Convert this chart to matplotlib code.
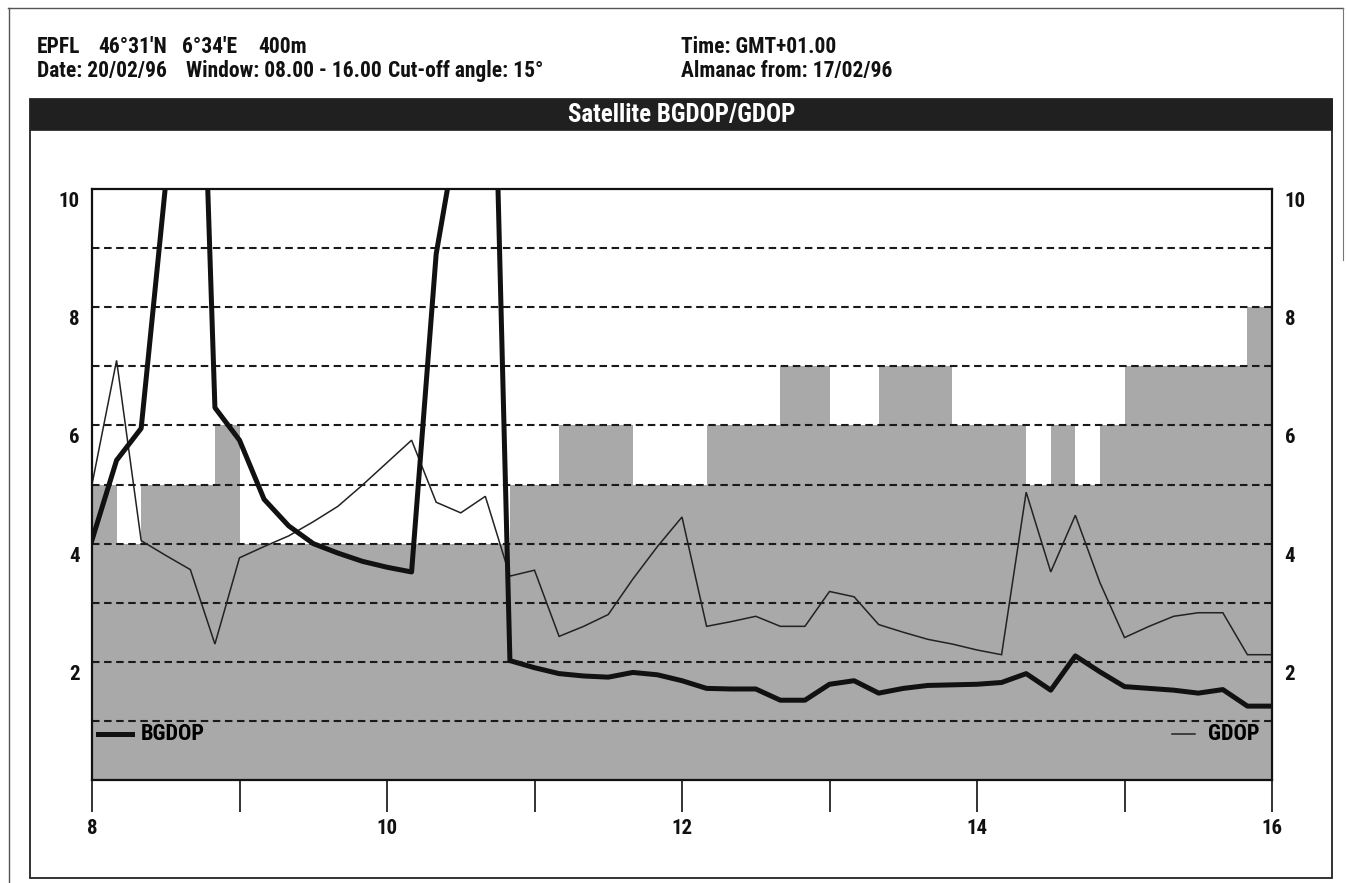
import matplotlib
matplotlib.use("Agg")
import matplotlib.pyplot as plt
from matplotlib import font_manager as fm
from matplotlib.transforms import ScaledTranslation
from matplotlib.lines import Line2D
from matplotlib.patches import Rectangle

# ---------------- data ----------------
minutes = [0, 10, 20, 30, 40, 50, 60, 70, 80, 90, 100, 110, 120, 130, 140, 150,
           160, 170, 180, 190, 200, 210, 220, 230, 240, 250, 260, 270, 280, 290,
           300, 310, 320, 330, 340, 350, 360, 370, 380, 390, 400, 410, 420, 430,
           440, 450, 460, 470, 480]  # minutes after 08:00

gdop = [5.0, 7.1, 4.05, 3.8, 3.56, 2.3, 3.76, 3.95, 4.13, 4.37, 4.63, 4.99,
        5.37, 5.75, 4.7, 4.52, 4.8, 3.45, 3.55, 2.43, 2.6, 2.8, 3.4, 3.95,
        4.45, 2.6, 2.68, 2.77, 2.6, 2.6, 3.19, 3.1, 2.63, 2.5, 2.38, 2.3,
        2.2, 2.12, 4.87, 3.52, 4.48, 3.34, 2.41, 2.6, 2.77, 2.83, 2.83, 2.12, 2.12]

bgdop = [4.06, 5.41, 5.95, 10.1, 19.0, 6.3, 5.75, 4.75, 4.3, 4.0, 3.84, 3.7,
         3.6, 3.52, 8.9, 11.3, 18.5, 2.02, 1.9, 1.8, 1.76, 1.74, 1.82, 1.78,
         1.68, 1.55, 1.54, 1.54, 1.35, 1.35, 1.62, 1.68, 1.47, 1.55, 1.6, 1.61,
         1.62, 1.65, 1.8, 1.52, 2.1, 1.83, 1.58, 1.55, 1.52, 1.47, 1.53, 1.25, 1.25]

satellites = [5, 4, 5, 5, 5, 6, 4, 4, 4, 4, 4, 4, 4, 4, 4, 4, 4, 5, 5, 6, 6, 6,
              5, 5, 5, 6, 6, 6, 7, 7, 6, 6, 7, 7, 7, 6, 6, 6, 5, 6, 5, 6, 7, 7,
              7, 7, 7, 8, 8]

hour_ticks = [8, 9, 10, 11, 12, 13, 14, 15, 16]
hour_labels = ["8", "", "10", "", "12", "", "14", "", "16"]
y_ticks = [2, 4, 6, 8, 10]
y_labels = ["2", "4", "6", "8", "10"]

header_1 = [("EPFL", 37), ("46°31'N", 98), ("6°34'E", 182), ("400m", 258),
            ("Time: GMT+01.00", 681)]
header_2 = [("Date: 20/02/96", 37), ("Window: 08.00 - 16.00", 186),
            ("Cut-off angle: 15°", 388), ("Almanac from: 17/02/96", 681)]
title = "Satellite BGDOP/GDOP"

hours = [8 + m / 60 for m in minutes]

# ---------------- fonts ----------------
avail = {f.name for f in fm.fontManager.ttflist}
family = 'DejaVu Sans'
for cand in ['Roboto Condensed', 'Liberation Sans Narrow', 'Archivo Narrow',
             'Asap Condensed', 'DejaVu Sans']:
    if cand in avail:
        family = cand
        break

FONT = dict(family=family, weight='bold')
FS = 15
HFS = 15.5

# ---------------- figure ----------------
W, H = 1347, 883
fig = plt.figure(figsize=(W / 100, H / 100), dpi=100)
fig.patch.set_facecolor('white')

def fx(px):
    return px / W

def fy(py):
    return 1 - py / H

# outer frame lines (scan border)
fig.add_artist(Line2D([fx(8), fx(1343)], [fy(8), fy(8)], color='#555555', lw=1.0))
fig.add_artist(Line2D([fx(9), fx(9)], [fy(8), fy(883)], color='#555555', lw=1.0))
fig.add_artist(Line2D([fx(1343), fx(1343)], [fy(8), fy(260)], color='#777777', lw=0.8))

# panel
fig.add_artist(Rectangle((fx(30), fy(878)), fx(1332) - fx(30), fy(99) - fy(878),
                         fill=False, edgecolor='#222222', lw=1.3))
fig.add_artist(Rectangle((fx(30), fy(130)), fx(1332) - fx(30), fy(99) - fy(130),
                         facecolor='#202020', edgecolor='#202020', lw=0.5))
fig.text(fx(682), fy(115), title, color='white', ha='center', va='center',
         fontsize=18, **FONT)

for txt, x in header_1:
    fig.text(fx(x), fy(53), txt, ha='left', va='baseline', fontsize=HFS, color='#111111', **FONT)
for txt, x in header_2:
    fig.text(fx(x), fy(77), txt, ha='left', va='baseline', fontsize=HFS, color='#111111', **FONT)

# axes
L, R, T, B = 92, 1272, 189, 780
ax = fig.add_axes([fx(L), fy(B), fx(R) - fx(L), fy(T) - fy(B)])
ax.set_xlim(8, 16)
ax.set_ylim(0, 10)
ax.set_facecolor('white')

ax.fill_between(hours, satellites, 0, step='post', color='#a9a9a9', lw=0, zorder=1)
for lev in range(1, 10):
    ax.axhline(lev, color='#1a1a1a', lw=1.5, ls=(0, (3.6, 2.2)), zorder=2)
ax.plot(hours, gdop, color='#222222', lw=1.1, zorder=3, solid_joinstyle='miter')
ax.plot(hours, bgdop, color='#111111', lw=3.6, zorder=4, solid_joinstyle='round')

for s in ax.spines.values():
    s.set_linewidth(1.6)
    s.set_color('#111111')
    s.set_zorder(6)

ax.set_xticks(hour_ticks)
ax.set_xticklabels(hour_labels)
ax.tick_params(axis='x', direction='out', length=23, width=1.2, pad=5,
               labelsize=FS, colors='#111111')
ax.set_yticks(y_ticks)
ax.set_yticklabels(y_labels)
ax.tick_params(axis='y', length=0, labelsize=FS, left=True, right=True,
               labelleft=True, labelright=True, pad=9, colors='#111111')
off = ScaledTranslation(0, -3 / 100, fig.dpi_scale_trans)
fp = fm.FontProperties(size=FS, **FONT)
for lab in ax.get_xticklabels():
    lab.set_fontproperties(fp)
for t in ax.yaxis.get_major_ticks():
    for lab in (t.label1, t.label2):
        lab.set_fontproperties(fp)
        lab.set_va('top')
        lab.set_transform(lab.get_transform() + off)

# legend-like labels
ax.add_line(Line2D([0.005, 0.034], [0.077, 0.077], transform=ax.transAxes,
                   color='#111111', lw=3.6, zorder=7))
ax.text(0.0415, 0.077, "BGDOP", transform=ax.transAxes, ha='left', va='center',
        fontsize=16, zorder=7, **FONT)
ax.add_line(Line2D([0.915, 0.935], [0.077, 0.077], transform=ax.transAxes,
                   color='#222222', lw=1.1, zorder=7))
ax.text(0.946, 0.077, "GDOP", transform=ax.transAxes, ha='left', va='center',
        fontsize=16, zorder=7, **FONT)

fig.savefig("out.png", dpi=100)
